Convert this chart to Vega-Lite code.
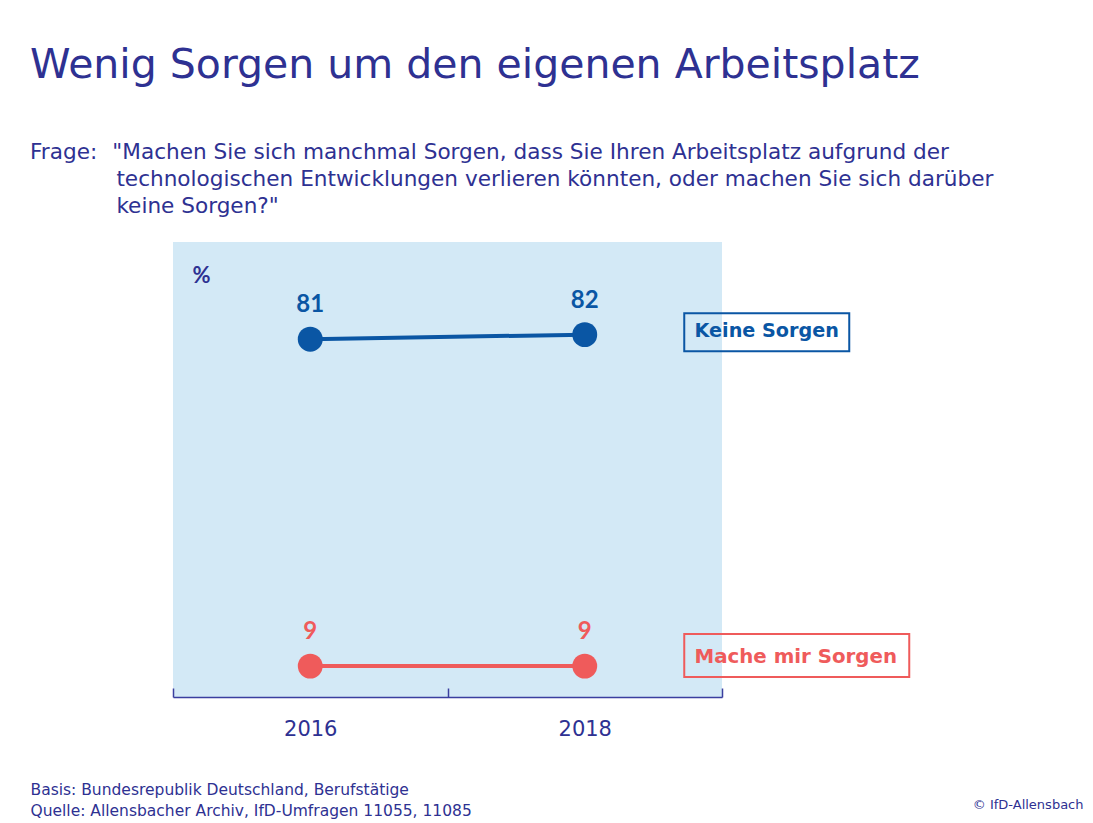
{
  "$schema": "https://vega.github.io/schema/vega-lite/v6.json",
  "autosize": "none",
  "width": 549,
  "height": 455,
  "padding": {"left": 173, "top": 242, "right": 371, "bottom": 126},
  "background": "white",
  "config": {
    "font": "DejaVu Sans",
    "view": {"fill": "#d3e9f6", "stroke": null}
  },
  "title": {
    "text": "Wenig Sorgen um den eigenen Arbeitsplatz",
    "subtitle": [
      "Frage:\u2002\u2009\"Machen Sie sich manchmal Sorgen, dass Sie Ihren Arbeitsplatz aufgrund der",
      "\u200b\u2003\u2003\u2003\u2003technologischen Entwicklungen verlieren könnten, oder machen Sie sich darüber",
      "\u200b\u2003\u2003\u2003\u2003keine Sorgen?\""
    ],
    "anchor": "start",
    "frame": "group",
    "dx": -143,
    "offset": 23,
    "font": "DejaVu Sans",
    "fontSize": 41,
    "fontWeight": "normal",
    "color": "#2e3192",
    "subtitleFont": "DejaVu Sans",
    "subtitleFontSize": 21.6,
    "subtitleColor": "#2e3192",
    "subtitleLineHeight": 27,
    "subtitlePadding": 55
  },
  "data": {
    "values": [
      {"series": "Keine Sorgen", "year": "2016", "value": 81},
      {"series": "Keine Sorgen", "year": "2018", "value": 82},
      {"series": "Mache mir Sorgen", "year": "2016", "value": 9},
      {"series": "Mache mir Sorgen", "year": "2018", "value": 9}
    ]
  },
  "encoding": {
    "x": {"field": "year", "type": "ordinal", "scale": {"paddingInner": 0, "paddingOuter": 0}},
    "y": {"field": "value", "type": "quantitative", "scale": {"domain": [2.2, 102.4], "nice": false, "zero": false}},
    "color": {
      "field": "series",
      "type": "nominal",
      "scale": {"domain": ["Keine Sorgen", "Mache mir Sorgen"], "range": ["#0a56a4", "#ef5b5b"]},
      "legend": null
    }
  },
  "resolve": {"axis": {"y": "independent"}},
  "layer": [
    {
      "mark": {"type": "line", "strokeWidth": 4},
      "encoding": {
        "x": {
          "field": "year", "type": "ordinal",
          "scale": {"paddingInner": 0, "paddingOuter": 0},
          "axis": {
            "orient": "bottom",
            "labelAngle": 0,
            "labelFont": "DejaVu Sans",
            "labelFontSize": 21,
            "labelColor": "#2e3192",
            "labelPadding": 30,
            "domainColor": "#3a3f9f",
            "domainWidth": 1.5,
            "tickColor": "#3a3f9f",
            "tickWidth": 1.5,
            "tickSize": -9,
            "tickBand": "extent",
            "title": ["Basis: Bundesrepublik Deutschland, Berufstätige", "Quelle: Allensbacher Archiv, IfD-Umfragen 11055, 11085"],
            "titleFont": "DejaVu Sans",
            "titleFontSize": 15.5,
            "titleFontWeight": "normal",
            "titleColor": "#2e3192",
            "titleAlign": "left",
            "titleAnchor": "start",
            "titleBaseline": "alphabetic",
            "titleLineHeight": 21,
            "titleX": -143,
            "titleY": 97
          }
        },
        "y": {
          "field": "value", "type": "quantitative",
          "scale": {"domain": [2.2, 102.4], "nice": false, "zero": false},
          "axis": {
            "orient": "left",
            "labels": false, "ticks": false, "domain": false, "grid": false,
            "title": "%",
            "titleAngle": 0,
            "titleFont": "Lato",
            "titleFontSize": 22,
            "titleFontWeight": "bold",
            "titleColor": "#2e3192",
            "titleAlign": "center",
            "titleBaseline": "middle",
            "titleX": 28,
            "titleY": 33
          }
        }
      }
    },
    {
      "mark": {"type": "point", "filled": true, "opacity": 1, "size": 620},
      "encoding": {
        "y": {
          "field": "value", "type": "quantitative",
          "scale": {"domain": [2.2, 102.4], "nice": false, "zero": false},
          "axis": {
            "orient": "right",
            "labels": false, "ticks": false, "domain": false, "grid": false,
            "title": "© IfD-Allensbach",
            "titleAngle": 0,
            "titleFont": "DejaVu Sans",
            "titleFontSize": 13,
            "titleFontWeight": "normal",
            "titleColor": "#2e3192",
            "titleAlign": "right",
            "titleBaseline": "alphabetic",
            "titleX": 361,
            "titleY": 566
          }
        }
      }
    },
    {
      "mark": {"type": "text", "dy": -34, "font": "Lato", "fontSize": 24, "fontWeight": "bold", "baseline": "middle", "align": "center"},
      "encoding": {
        "y": {"field": "value", "type": "quantitative", "scale": {"domain": [2.2, 102.4], "nice": false, "zero": false}, "axis": null},
        "text": {"field": "value", "type": "quantitative"}
      }
    },
    {
      "transform": [{"filter": "datum.year === '2018' && datum.series === 'Keine Sorgen'"}],
      "mark": {"type": "point", "filled": false, "opacity": 1, "strokeWidth": 2, "size": 27225, "shape": "M-1,-0.2303L1,-0.2303L1,0.2303L-1,0.2303Z", "xOffset": 182, "yOffset": -2.5},
      "encoding": {
        "y": {"field": "value", "type": "quantitative", "scale": {"domain": [2.2, 102.4], "nice": false, "zero": false}, "axis": null}
      }
    },
    {
      "transform": [{"filter": "datum.year === '2018' && datum.series === 'Keine Sorgen'"}],
      "mark": {"type": "text", "fontSize": 19.2, "fontWeight": "bold", "align": "center", "baseline": "middle", "xOffset": 182, "yOffset": -3.5},
      "encoding": {
        "y": {"field": "value", "type": "quantitative", "scale": {"domain": [2.2, 102.4], "nice": false, "zero": false}, "axis": null},
        "text": {"field": "series"}
      }
    },
    {
      "transform": [{"filter": "datum.year === '2018' && datum.series === 'Mache mir Sorgen'"}],
      "mark": {"type": "point", "filled": false, "opacity": 1, "strokeWidth": 2, "size": 50625, "shape": "M-1,-0.1911L1,-0.1911L1,0.1911L-1,0.1911Z", "xOffset": 212, "yOffset": -10.5},
      "encoding": {
        "y": {"field": "value", "type": "quantitative", "scale": {"domain": [2.2, 102.4], "nice": false, "zero": false}, "axis": null}
      }
    },
    {
      "transform": [{"filter": "datum.year === '2018' && datum.series === 'Mache mir Sorgen'"}],
      "mark": {"type": "text", "fontSize": 19.8, "fontWeight": "bold", "align": "center", "baseline": "middle", "xOffset": 211, "yOffset": -9},
      "encoding": {
        "y": {"field": "value", "type": "quantitative", "scale": {"domain": [2.2, 102.4], "nice": false, "zero": false}, "axis": null},
        "text": {"field": "series"}
      }
    }
  ]
}
